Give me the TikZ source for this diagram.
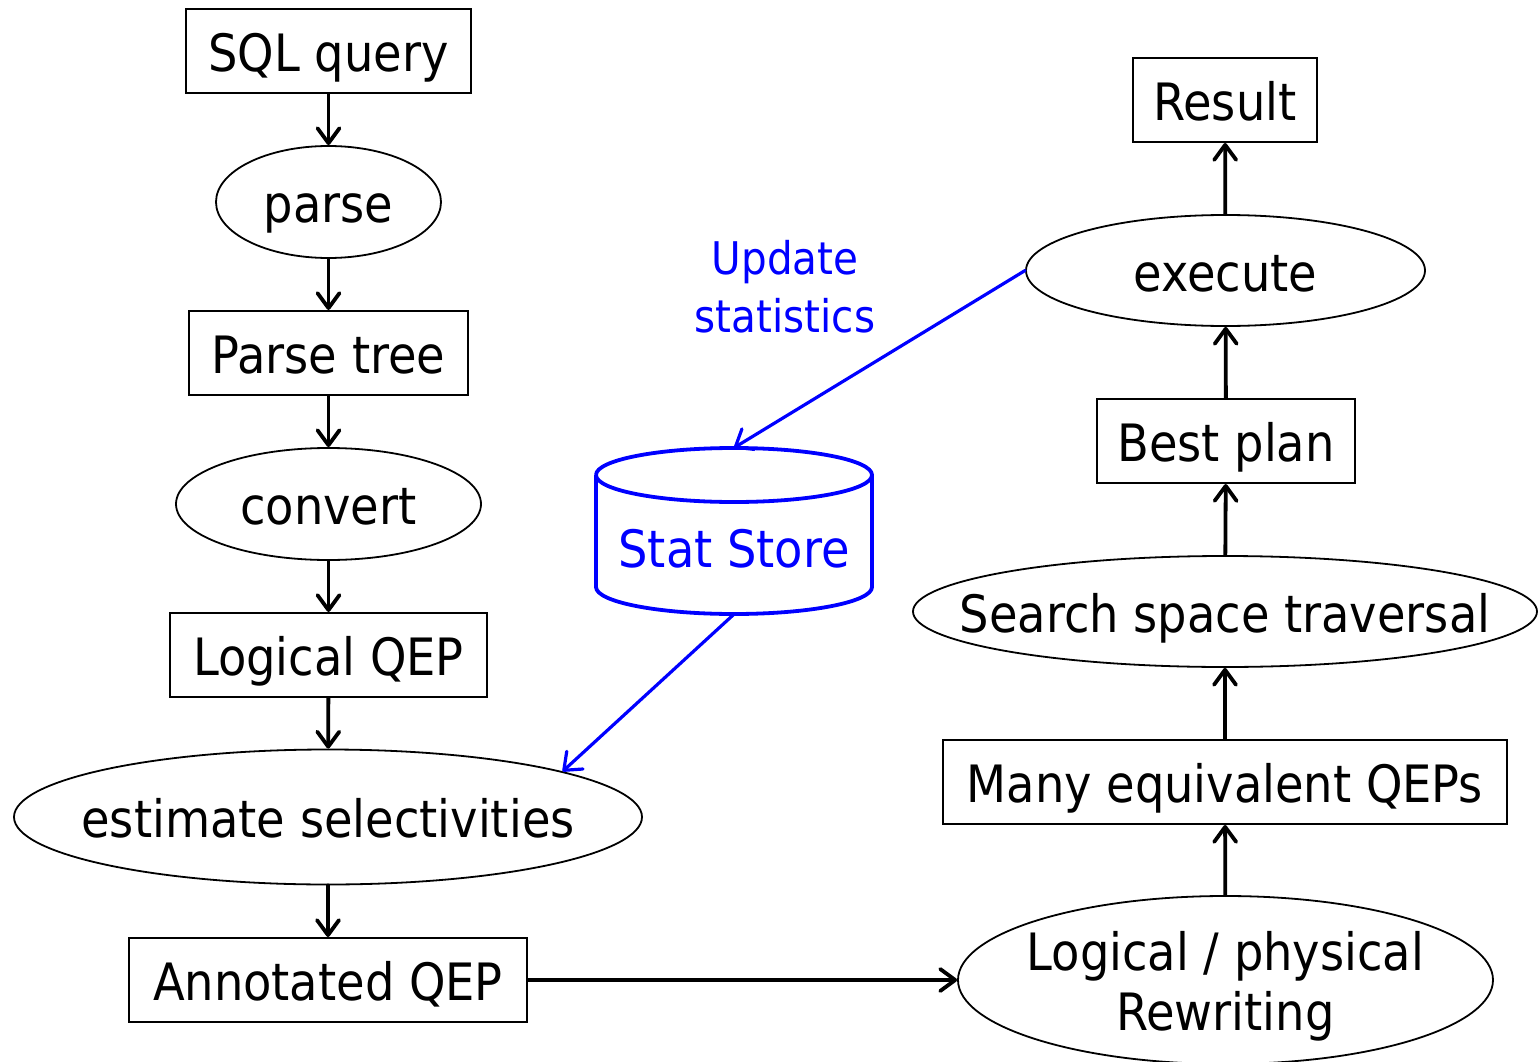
\documentclass[tikz,border=0pt]{standalone}
\usepackage{fontspec}
\setmainfont{DejaVu Sans Condensed}
\usetikzlibrary{shapes.geometric,arrows.meta}
\definecolor{pblue}{RGB}{0,0,255}
\tikzset{
  txt/.style={font=\fontsize{51.5}{60}\selectfont, text height=41pt, text depth=0pt},
  box/.style={draw, line width=2pt, rectangle, inner sep=0pt, txt},
  oval/.style={draw, line width=1.8pt, ellipse, inner sep=0pt, txt},
  flow/.style={line width=3.8pt, line cap=round, -{Straight Barb[length=15pt,width=22pt,round]}},
  bflow/.style={line width=3.2pt, line cap=round, draw=pblue, -{Straight Barb[length=15pt,width=24pt,round]}},
}
\newcommand{\zw}[1]{\makebox[0pt]{#1}}
\begin{document}
\begin{tikzpicture}[x=1pt,y=-1pt]
\useasboundingbox (0,0) rectangle (1540,1062);
% left column
\node[box, minimum width=285pt, minimum height=84pt] (sql) at (328.5,51) {SQL query};
\node[oval, minimum width=225pt, minimum height=112pt] (parse) at (328.5,202) {\zw{parse}};
\node[box, minimum width=279pt, minimum height=84pt] (ptree) at (328.5,353) {Parse tree};
\node[oval, minimum width=305pt, minimum height=112pt] (conv) at (328.5,504) {\zw{convert}};
\node[box, minimum width=317pt, minimum height=84pt] (lqep) at (328.5,655) {Logical QEP};
\node[oval, minimum width=628pt, minimum height=135pt] (est) at (328,817) {\zw{estimate selectivities}};
\node[box, minimum width=398pt, minimum height=84pt] (ann) at (328,980) {Annotated QEP};
% right column
\node[oval, minimum width=535pt, minimum height=168pt] (rew) at (1225.5,980)
  {\zw{\raisebox{30pt}{Logical / physical}}\zw{\raisebox{-30pt}{Rewriting}}};
\node[box, minimum width=564pt, minimum height=84pt] (many) at (1225,782) {Many equivalent QEPs};
\node[oval, minimum width=624pt, minimum height=111pt] (search) at (1225,611.5) {\zw{Search space traversal}};
\node[box, minimum width=258pt, minimum height=84pt] (best) at (1226,441) {Best plan};
\node[oval, minimum width=399pt, minimum height=111pt] (exec) at (1225.5,270.5) {\zw{execute}};
\node[box, minimum width=184pt, minimum height=84pt] (res) at (1225,100) {Result};
% stat store
\node[minimum width=276pt, minimum height=166pt, inner sep=0pt, text=pblue, txt] (stat) at (734,531)
  {\raisebox{-16pt}{Stat Store}};
\draw[pblue, line width=3.8pt]
  (596,475) arc[start angle=180, end angle=540, x radius=138, y radius=-27]
  (596,475) -- (596,587) arc[start angle=180, end angle=360, x radius=138, y radius=-27]
  -- (872,475);
\node[text=pblue, align=center, font=\fontsize{45}{58}\selectfont] (upd) at (785,287) {Update\\statistics};
% arrows
\draw[flow] (sql) -- (parse);
\draw[flow] (parse) -- (ptree);
\draw[flow] (ptree) -- (conv);
\draw[flow] (conv) -- (lqep);
\draw[flow] (lqep) -- (est);
\draw[flow] (est) -- (ann);
\draw[flow] (ann.east) -- (rew.west);
\draw[flow] (rew) -- (many);
\draw[flow] (many) -- (search);
\draw[flow] (search) -- (best);
\draw[flow] (best) -- (exec);
\draw[flow] (exec) -- (res);
\draw[bflow] (exec.west) -- (stat.north);
\draw[bflow] (stat.south) -- (est.11.85);
\end{tikzpicture}
\end{document}
